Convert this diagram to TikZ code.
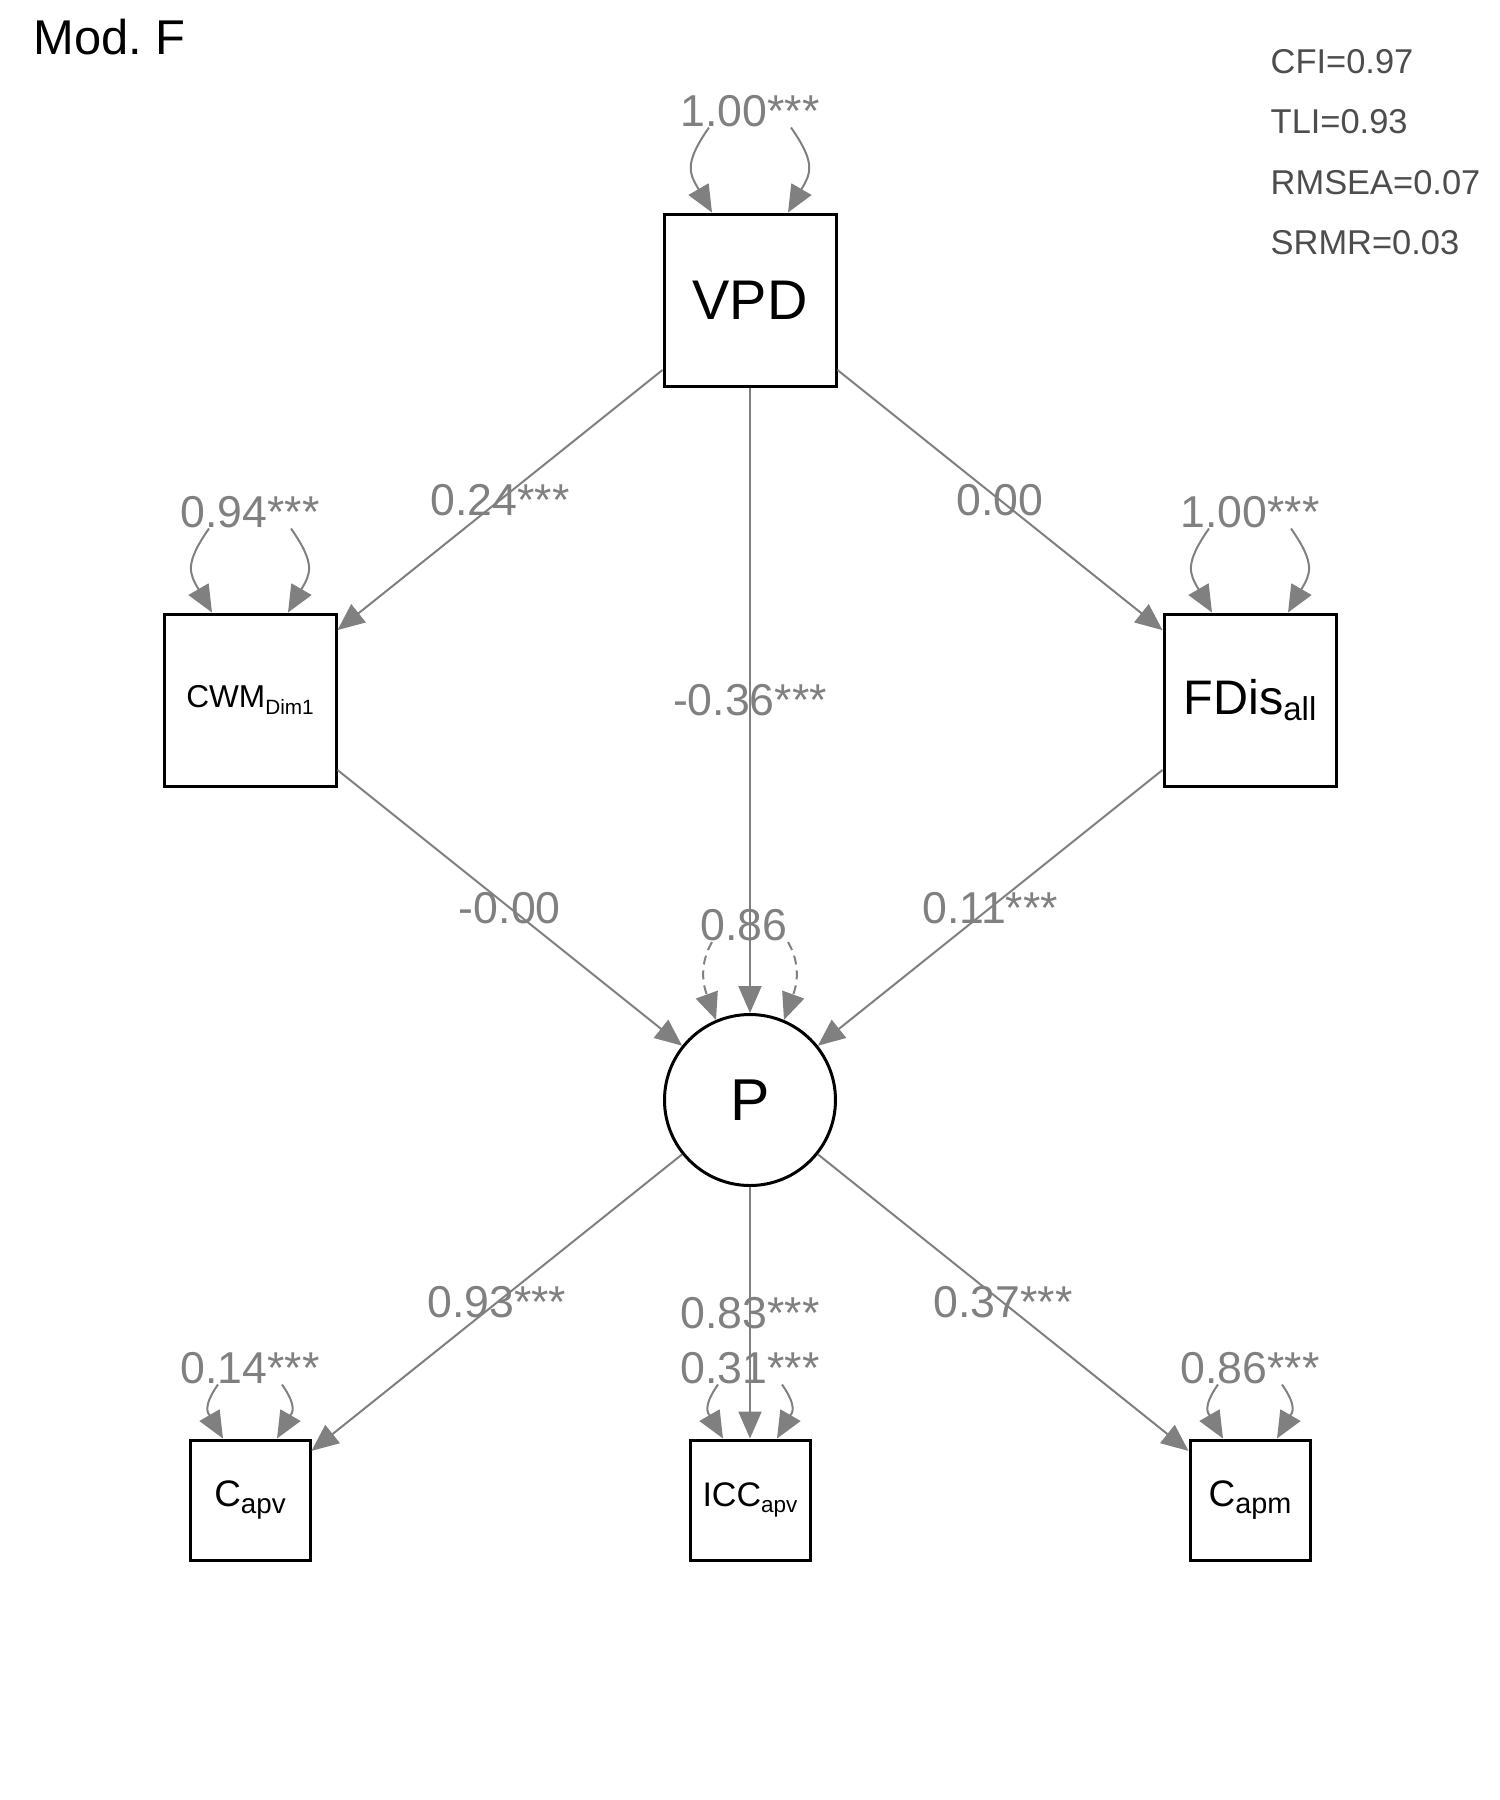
\documentclass[tikz,border=0pt]{standalone}
\usepackage{fontspec}
\setmainfont{Liberation Sans}
\usepackage{xcolor}
\usepackage{tikz}
\usetikzlibrary{arrows.meta,positioning}
\definecolor{edgegray}{RGB}{128,128,128}
\definecolor{fitgray}{RGB}{77,77,77}
\newcommand{\fsz}[1]{\fontsize{#1}{#1}\selectfont}
\newcommand{\lowsub}[2]{\raisebox{-0.65mm}{\fsz{#1}#2}}

\begin{document}
\begin{tikzpicture}[
  obs/.style={draw, line width=0.3mm, minimum size=1.72cm, inner sep=0pt, align=center},
  obssmall/.style={obs, minimum size=1.2cm},
  latent/.style={draw, circle, line width=0.3mm, minimum size=1.71cm, inner sep=0pt},
  arr/.style={-{Triangle[length=2.7mm,width=2.3mm]}, edgegray, line width=0.2mm},
  coef/.style={text=edgegray, font=\fsz{12.7}, inner sep=0pt},
  loopl/.style={arr, out=235, in=120, looseness=1.35},
  loopr/.style={arr, out=-55, in=60, looseness=1.35},
  fitidx/.style={anchor=west, inner sep=0pt, text=fitgray, font=\fsz{9.8}}
]
\useasboundingbox (0,0) rectangle (15,-18);

\node[anchor=west, inner sep=0pt, font=\fsz{13.9}] (title) at (0.33,-0.375) {Mod.\ F};
\node[fitidx] (cfi) at (12.7,-0.613) {CFI=0.97};
\node[fitidx] (tli) at (12.7,-1.219) {TLI=0.93};
\node[fitidx] (rmsea) at (12.7,-1.826) {RMSEA=0.07};
\node[fitidx] (srmr) at (12.7,-2.43) {SRMR=0.03};

\node[obs, font=\fsz{15.9}] (vpd) at (7.5,-3) {VPD};
\node[obs, font=\fsz{9}] (cwm) at (2.5,-7) {CWM\lowsub{5.9}{Dim1}};
\node[obs, font=\fsz{13.8}] (fdis) at (12.5,-7) {FDis\lowsub{9.4}{all}};
\node[latent, font=\fsz{16.8}] (p) at (7.5,-11) {P};
\node[obssmall, font=\fsz{10.5}] (capv) at (2.5,-15) {C\lowsub{7.9}{apv}};
\node[obssmall, font=\fsz{9.7}] (iccapv) at (7.5,-15) {ICC\lowsub{6.4}{apv}};
\node[obssmall, font=\fsz{10.5}] (capm) at (12.5,-15) {C\lowsub{8.2}{apm}};

% regressions and loadings
\draw[arr] (vpd) -- node[coef] {0.24***} (cwm);
\draw[arr] (vpd) -- node[coef] {0.00} (fdis);
\draw[arr] (vpd) -- node[coef] {-0.36***} (p);
\draw[arr] (cwm) -- node[coef] {-0.00} (p);
\draw[arr] (fdis) -- node[coef] {0.11***} (p);
\draw[arr] (p) -- node[coef] {0.93***} (capv);
\draw[arr] (p) -- node[coef] {0.83***} (iccapv);
\draw[arr] (p) -- node[coef] {0.37***} (capm);

% residual variances
\node[coef, above=0.85cm of vpd] (rvpd) {1.00***};
\node[coef, above=0.84cm of cwm] (rcwm) {0.94***};
\node[coef, above=0.84cm of fdis] (rfdis) {1.00***};
\node[coef, above=0.71cm of p, xshift=-0.6mm] (rp) {0.86};
\node[coef, above=0.54cm of capv] (rcapv) {0.14***};
\node[coef, above=0.54cm of iccapv] (ricc) {0.31***};
\node[coef, above=0.54cm of capm] (rcapm) {0.86***};

\draw[loopl] ([xshift=-4.1mm]rvpd.south) to ([xshift=-3.8mm]vpd.north);
\draw[loopr] ([xshift=4.1mm]rvpd.south) to ([xshift=3.8mm]vpd.north);
\draw[loopl] ([xshift=-4.1mm]rcwm.south) to ([xshift=-3.8mm]cwm.north);
\draw[loopr] ([xshift=4.1mm]rcwm.south) to ([xshift=3.8mm]cwm.north);
\draw[loopl] ([xshift=-4.1mm]rfdis.south) to ([xshift=-3.8mm]fdis.north);
\draw[loopr] ([xshift=4.1mm]rfdis.south) to ([xshift=3.8mm]fdis.north);
\draw[arr, dash pattern=on 0.9mm off 0.6mm, out=240, in=110] ([xshift=-3.2mm]rp.south) to (p.113);
\draw[arr, dash pattern=on 0.9mm off 0.6mm, out=-60, in=70] ([xshift=4.4mm]rp.south) to (p.67);
\draw[loopl] ([xshift=-3.2mm]rcapv.south) to ([xshift=-2.7mm]capv.north);
\draw[loopr] ([xshift=3.2mm]rcapv.south) to ([xshift=2.7mm]capv.north);
\draw[loopl] ([xshift=-3.2mm]ricc.south) to ([xshift=-2.7mm]iccapv.north);
\draw[loopr] ([xshift=3.2mm]ricc.south) to ([xshift=2.7mm]iccapv.north);
\draw[loopl] ([xshift=-3.2mm]rcapm.south) to ([xshift=-2.7mm]capm.north);
\draw[loopr] ([xshift=3.2mm]rcapm.south) to ([xshift=2.7mm]capm.north);
\end{tikzpicture}
\end{document}
